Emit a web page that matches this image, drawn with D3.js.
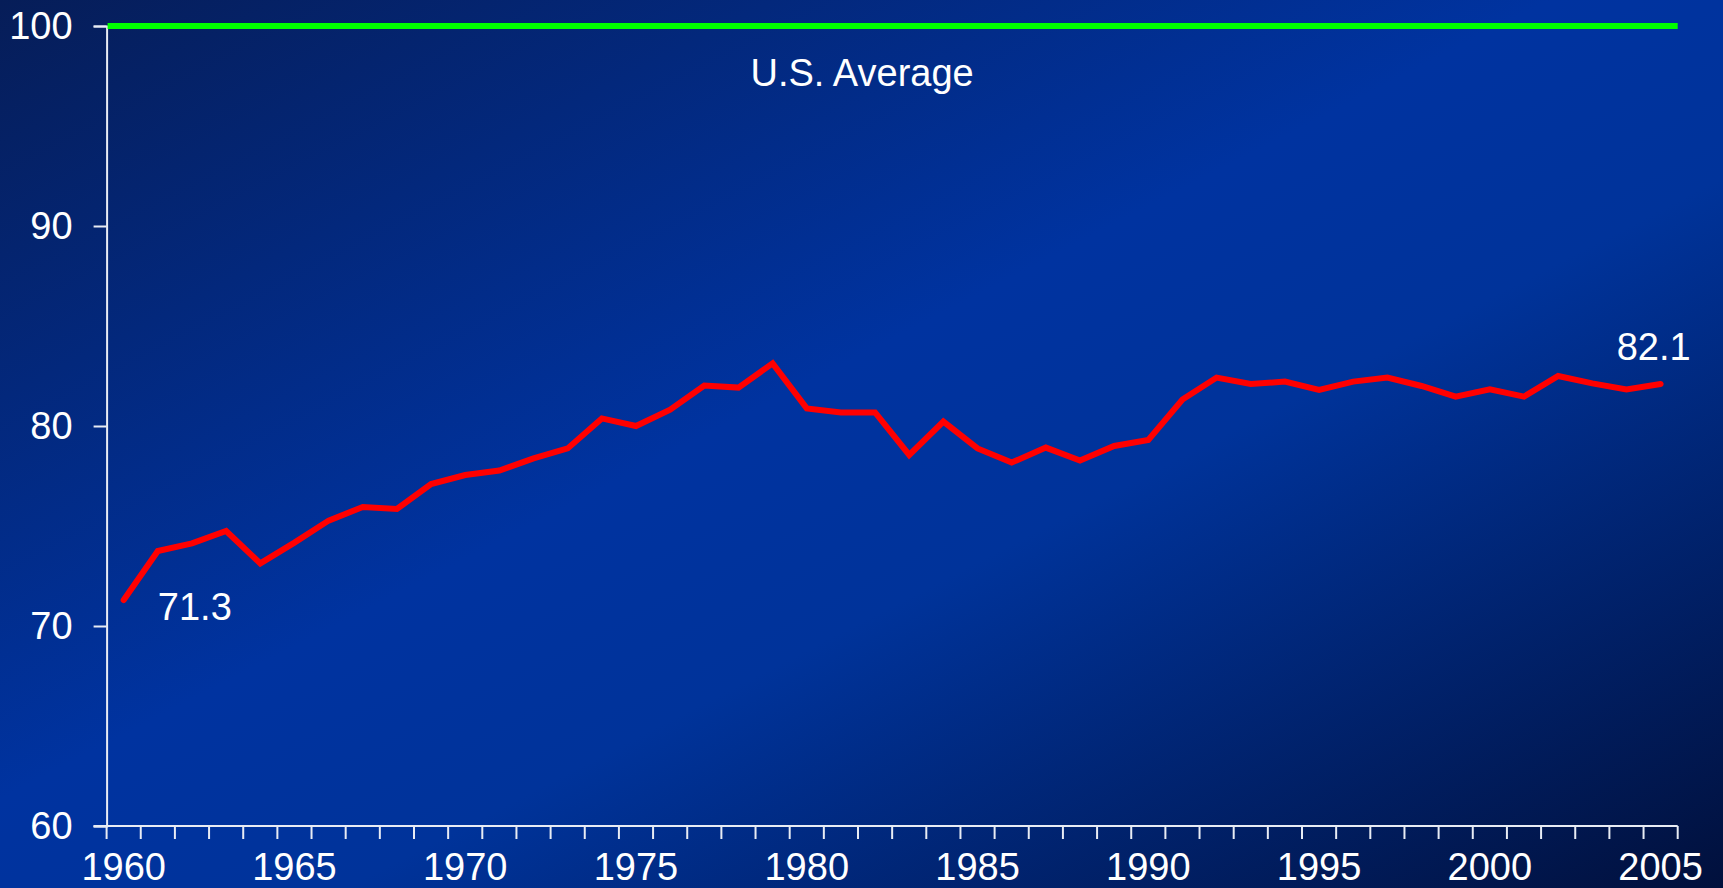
<!DOCTYPE html>
<html>
<head>
<meta charset="utf-8">
<script src="https://cdn.jsdelivr.net/npm/d3@7"></script>
<style>
  html, body { margin: 0; padding: 0; overflow: hidden; background: #0033a0; }
  svg { display: block; }
  text { font-family: "Liberation Sans", Arial, sans-serif; fill: #ffffff; }
</style>
</head>
<body>
<svg id="chart" width="1723" height="888"></svg>
<script>
const years = d3.range(1960, 2006);
const values = [
  71.3, 73.75, 74.13, 74.75, 73.13, 74.17, 75.27, 75.95, 75.85, 77.1,
  77.55, 77.77, 78.38, 78.88, 80.38, 80.0, 80.82, 82.02, 81.92, 83.13,
  80.88, 80.68, 80.68, 78.55, 80.22, 78.88, 78.17, 78.92, 78.27, 79.0,
  79.3, 81.32, 82.42, 82.1, 82.22, 81.8, 82.22, 82.42, 82.0, 81.47,
  81.83, 81.47, 82.5, 82.13, 81.83, 82.1
];
const usAverage = 100;
const yTicks = [60, 70, 80, 90, 100];
const xLabelYears = [1960, 1965, 1970, 1975, 1980, 1985, 1990, 1995, 2000, 2005];
const startLabel = "71.3";
const endLabel = "82.1";
const avgLabel = "U.S. Average";

const W = 1723, H = 888;
const plotLeft = 106.6, plotRight = 1677.7, plotTop = 26, plotBottom = 826;

const svg = d3.select("#chart");
const defs = svg.append("defs");
const grad = defs.append("linearGradient")
  .attr("id", "bg")
  .attr("x1", 0).attr("y1", 0).attr("x2", 1).attr("y2", 1);
grad.append("stop").attr("offset", 0).attr("stop-color", "#061d58");
grad.append("stop").attr("offset", 0.45).attr("stop-color", "#0033a0");
grad.append("stop").attr("offset", 0.6).attr("stop-color", "#00339a");
grad.append("stop").attr("offset", 1).attr("stop-color", "#01103c");
svg.append("rect").attr("width", W).attr("height", H).attr("fill", "url(#bg)");

const x = d3.scaleBand().domain(years).range([plotLeft, plotRight]).padding(0);
const xc = yr => x(yr) + x.bandwidth() / 2;
const xLin = d3.scaleLinear().domain([0, years.length]).range([plotLeft, plotRight]);
const y = d3.scaleLinear().domain([60, 100]).range([plotBottom, plotTop]);

const axisColor = "#e8ecf4";

// Y axis
const yAxis = svg.append("g").attr("transform", `translate(${plotLeft},0)`)
  .call(d3.axisLeft(y).tickValues(yTicks).tickSize(13).tickPadding(21).tickFormat(d3.format("d")));
yAxis.select(".domain").attr("stroke", axisColor).attr("stroke-width", 2);
yAxis.selectAll(".tick line").attr("stroke", axisColor).attr("stroke-width", 2);
yAxis.selectAll(".tick text").attr("font-size", 38)
  .attr("font-family", "'Liberation Sans', Arial, sans-serif").attr("fill", "#ffffff");

// X axis: ticks at category boundaries
const xAxisG = svg.append("g").attr("transform", `translate(0,${plotBottom})`);
xAxisG.append("line").attr("x1", plotLeft - 13).attr("x2", plotRight)
  .attr("y1", 0).attr("y2", 0).attr("stroke", axisColor).attr("stroke-width", 2);
const boundaries = d3.range(0, years.length + 1);
xAxisG.selectAll("line.tk").data(boundaries).join("line").attr("class", "tk")
  .attr("x1", d => xLin(d)).attr("x2", d => xLin(d))
  .attr("y1", 0).attr("y2", 13).attr("stroke", axisColor).attr("stroke-width", 2);
xAxisG.selectAll("text.xl").data(xLabelYears).join("text").attr("class", "xl")
  .attr("x", d => xc(d)).attr("y", 54).attr("text-anchor", "middle")
  .attr("font-size", 38).text(d => d);

// U.S. average line
svg.append("line")
  .attr("x1", plotLeft + 1).attr("x2", plotRight)
  .attr("y1", y(usAverage)).attr("y2", y(usAverage))
  .attr("stroke", "#00ff00").attr("stroke-width", 6);

// Data line
const line = d3.line().x((d, i) => xc(years[i])).y(d => y(d));
svg.append("path").datum(values)
  .attr("d", line).attr("fill", "none")
  .attr("stroke", "#ff0000").attr("stroke-width", 6)
  .attr("stroke-linejoin", "miter").attr("stroke-linecap", "round");

// Labels
svg.append("text").attr("x", xLin(22.12)).attr("y", y(97)).attr("text-anchor", "middle")
  .attr("font-size", 38).text(avgLabel);
svg.append("text").attr("x", xc(1961)).attr("y", y(70.3)).attr("text-anchor", "start")
  .attr("font-size", 38).text(startLabel);
svg.append("text").attr("x", xc(2005) - 7).attr("y", y(83.3)).attr("text-anchor", "middle")
  .attr("font-size", 38).text(endLabel);
</script>
</body>
</html>
